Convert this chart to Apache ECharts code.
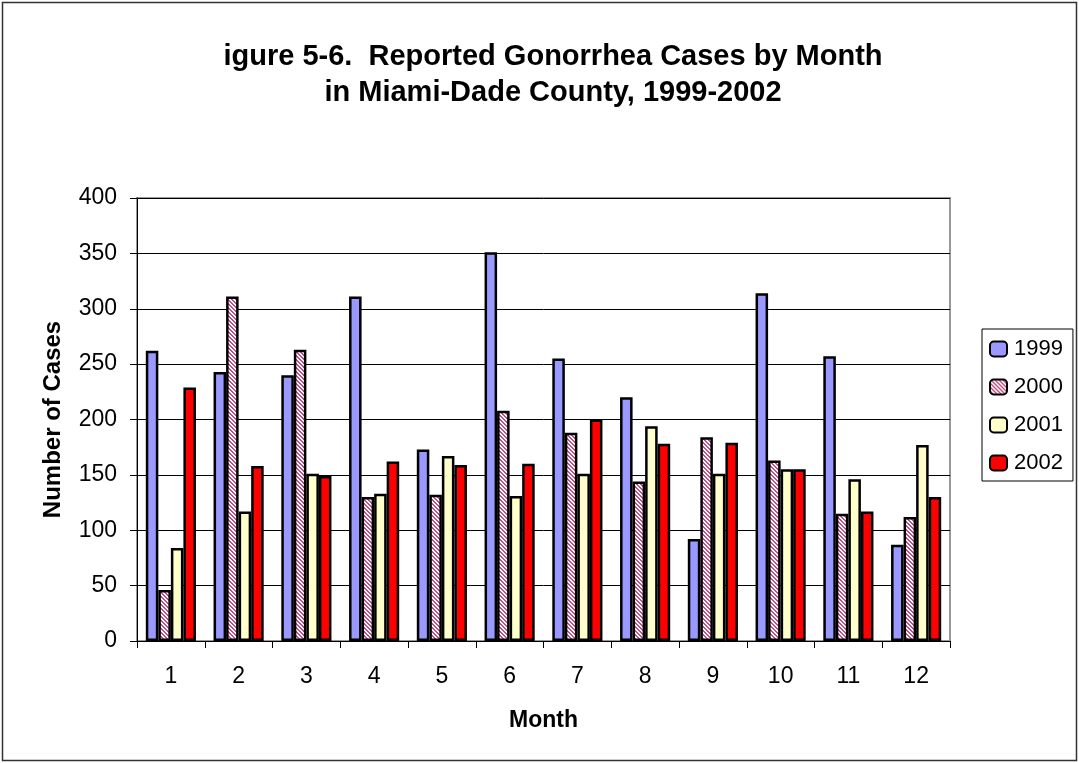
<!DOCTYPE html>
<html>
<head>
<meta charset="utf-8">
<script src="https://cdn.jsdelivr.net/npm/echarts@6/dist/echarts.min.js"></script>
<style>
  html, body { margin: 0; padding: 0; background: #fff; }
  #chart { width: 1079px; height: 763px; }
</style>
</head>
<body>
<div id="chart"></div>
<script>
var months = ["1", "2", "3", "4", "5", "6", "7", "8", "9", "10", "11", "12"];
var cases1999 = [262, 243, 240, 311, 173, 351, 255, 220, 92, 314, 257, 87];
var cases2000 = [46, 311, 263, 130, 132, 208, 188, 144, 184, 163, 115, 112];
var cases2001 = [84, 117, 151, 133, 167, 131, 151, 194, 151, 155, 146, 177];
var cases2002 = [229, 158, 149, 162, 159, 160, 200, 178, 179, 155, 117, 130];

// pink diagonal hatch used for the 2000 bars
function makeHatch() {
  var c = document.createElement("canvas");
  c.width = 4;
  c.height = 4;
  var ctx = c.getContext("2d");
  ctx.fillStyle = "#ffffff";
  ctx.fillRect(0, 0, 4, 4);
  ctx.fillStyle = "#c0508a";
  for (var i = 0; i < 4; i++) {
    ctx.fillRect(i, i, 1, 1);
    ctx.fillRect((i + 1) % 4, i, 1, 1);
  }
  return c;
}

var myChart = echarts.init(document.getElementById("chart"));
var font = "Arial, 'Liberation Sans', sans-serif";

function barSeries(name, data, color) {
  return {
    name: name,
    type: "bar",
    data: data,
    barGap: "0%",
    barCategoryGap: "26%",
    itemStyle: { color: color, borderColor: "#000", borderWidth: 2.5 }
  };
}

var option = {
  animation: false,
  title: {
    text: "igure 5-6.  Reported Gonorrhea Cases by Month\nin Miami-Dade County, 1999-2002",
    left: 548,
    top: 34,
    textAlign: "center",
    textStyle: { fontFamily: font, fontSize: 29, fontWeight: "bold", color: "#000", lineHeight: 36 }
  },
  graphic: [{
    type: "rect",
    shape: { x: 2.5, y: 2.5, width: 1074, height: 758 },
    style: { fill: "none", stroke: "#333", lineWidth: 1.5 }
  }],
  legend: {
    orient: "vertical",
    left: 982,
    top: 329,
    itemWidth: 17,
    itemHeight: 15,
    itemGap: 16,
    padding: [9, 10, 7, 7],
    borderColor: "#000",
    borderWidth: 1,
    itemStyle: { borderWidth: 2 },
    textStyle: { fontFamily: font, fontSize: 22, color: "#000", padding: [0, 0, 0, 2] },
    data: ["1999", "2000", "2001", "2002"]
  },
  grid: {
    left: 137,
    right: 129,
    top: 198,
    bottom: 122,
    show: true,
    borderColor: "#999",
    borderWidth: 2
  },
  xAxis: {
    type: "category",
    data: months,
    name: "Month",
    nameLocation: "middle",
    nameGap: 68,
    nameTextStyle: { fontFamily: font, fontSize: 23, fontWeight: "bold", color: "#000" },
    axisLine: { lineStyle: { color: "#000", width: 1 } },
    axisTick: { show: true, inside: false, length: 7, lineStyle: { color: "#000" } },
    axisLabel: { fontFamily: font, fontSize: 23, color: "#000", margin: 24 }
  },
  yAxis: {
    type: "value",
    min: 0,
    max: 400,
    interval: 50,
    name: "Number of Cases",
    nameLocation: "middle",
    nameGap: 72,
    nameTextStyle: { fontFamily: font, fontSize: 24, fontWeight: "bold", color: "#000" },
    axisLine: { show: true, lineStyle: { color: "#000", width: 1 } },
    axisTick: { show: true, length: 7, lineStyle: { color: "#000" } },
    axisLabel: { fontFamily: font, fontSize: 23, color: "#000", margin: 20 },
    splitLine: { lineStyle: { color: "#000", width: 1 } }
  },
  series: [
    barSeries("1999", cases1999, "#9999ff"),
    barSeries("2000", cases2000, { image: makeHatch(), repeat: "repeat" }),
    barSeries("2001", cases2001, "#ffffcc"),
    barSeries("2002", cases2002, "#ff0000")
  ]
};

myChart.setOption(option);
</script>
</body>
</html>
